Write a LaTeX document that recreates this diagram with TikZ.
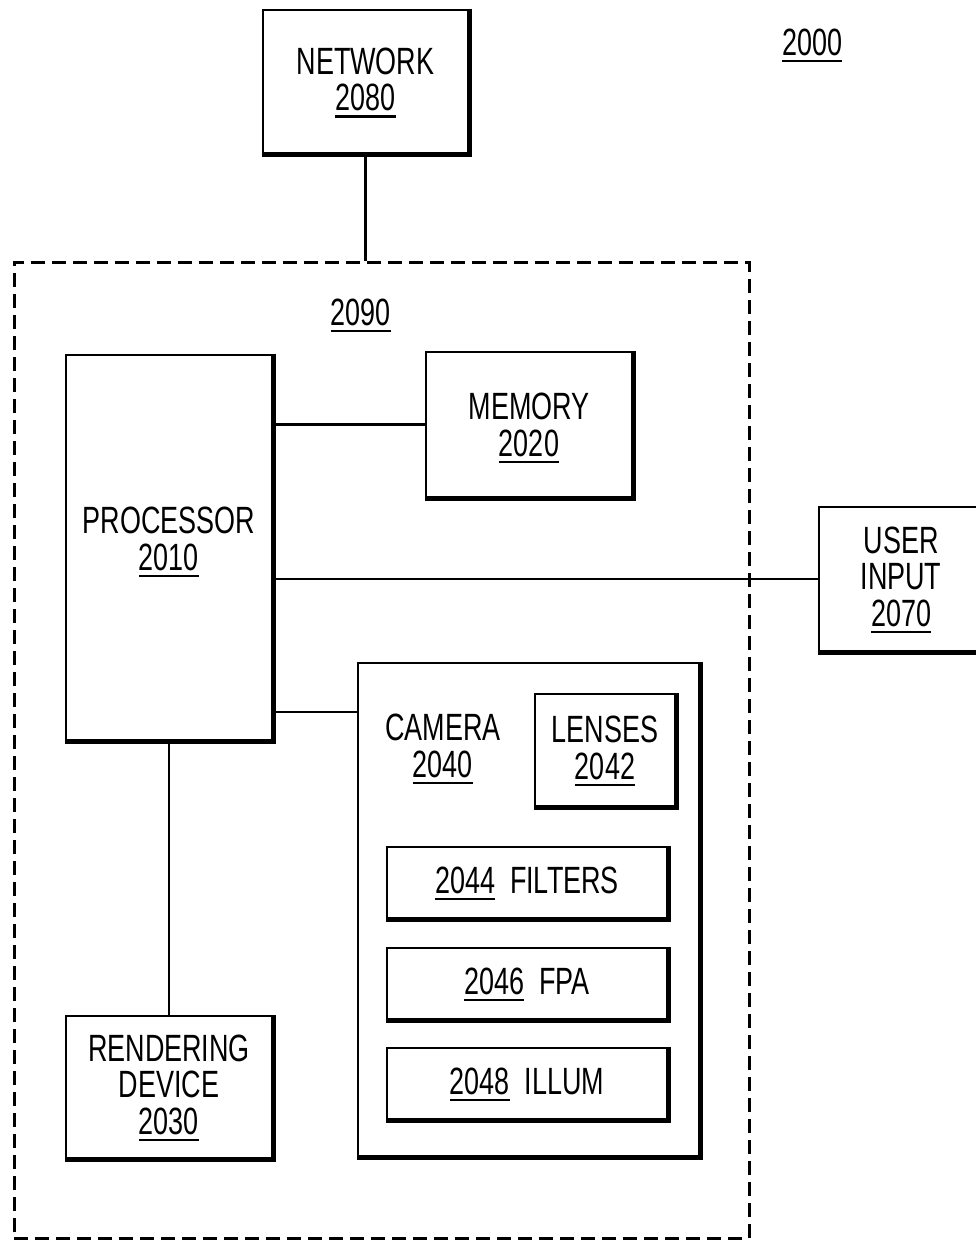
\documentclass[tikz,border=0pt]{standalone}
\usepackage{fontspec}
\setmainfont{Liberation Sans}[FakeStretch=0.71]
\newcommand\ulnum[1]{\setbox0\hbox{#1}\rlap{\raisebox{-7pt}[0pt][0pt]{\rule{\wd0}{2.5pt}}}\box0}
\begin{document}
\begin{tikzpicture}[x=1pt,y=-1pt,
  every node/.style={font=\fontsize{38}{36.5}\selectfont},
  pbox/.style={draw, line width=2.5pt, inner sep=0pt, align=center, text depth=5pt},
  shadowline/.style={line width=5pt, line join=miter},
  conn/.style={line width=2.5pt},
  lbl/.style={inner sep=0pt, align=center}]
\clip (0,0) rectangle (976,1241);
\fill[white] (0,0) rectangle (976,1241);
% boxes
\node[pbox, minimum width=205, minimum height=143] (net) at (365.5,81.5) {NETWORK\\\ulnum{2080}};
\node[lbl] (sys) at (812,42) {\ulnum{2000}};
\node[draw, dash pattern=on 14pt off 7pt, line width=3pt, inner sep=0pt, minimum width=735, minimum height=976] (dev) at (381.5,750) {};
\node[lbl] (devlbl) at (361,312) {\ulnum{2090}};
\node[pbox, text depth=18pt, minimum width=206, minimum height=385] (proc) at (169,547.5) {PROCESSOR\\\ulnum{2010}};
\node[pbox, text depth=0pt, minimum width=206, minimum height=145] (mem) at (529,424.5) {MEMORY\\\ulnum{2020}};
\node[pbox, minimum width=164, minimum height=144] (ui) at (901,579) {USER\\INPUT\\\ulnum{2070}};
\node[pbox, minimum width=341, minimum height=493] (cam) at (528.5,909.5) {};
\node[lbl] (camlbl) at (443,746) {CAMERA\\\ulnum{2040}};
\node[pbox, minimum width=140, minimum height=112] (lens) at (605,750) {LENSES\\\ulnum{2042}};
\node[pbox, minimum width=280, minimum height=71] (filt) at (527,882.5) {\ulnum{2044}\ \ FILTERS};
\node[pbox, minimum width=280, minimum height=71] (fpa) at (527,983.5) {\ulnum{2046}\ \ FPA};
\node[pbox, minimum width=280, minimum height=71] (illum) at (527,1083.5) {\ulnum{2048}\ \ ILLUM};
\node[pbox, minimum width=206, minimum height=142] (rend) at (169,1087) {RENDERING\\DEVICE\\\ulnum{2030}};
% shadows
\foreach \n in {net,proc,mem,ui,cam,lens,filt,fpa,illum,rend}
  \draw[shadowline] (\n.north east) -- (\n.south east) -- (\n.south west);
% connectors
\draw[conn] (net.south) -- (net.south |- dev.north);
\draw[conn] (proc.east |- mem.west) -- (mem.west);
\draw[conn] (proc.east |- ui.west) -- (ui.west);
\draw[conn] (proc.east |- 0,712) -- (cam.west |- 0,712);
\draw[conn] (proc.south) -- (rend.north);
\end{tikzpicture}
\end{document}
